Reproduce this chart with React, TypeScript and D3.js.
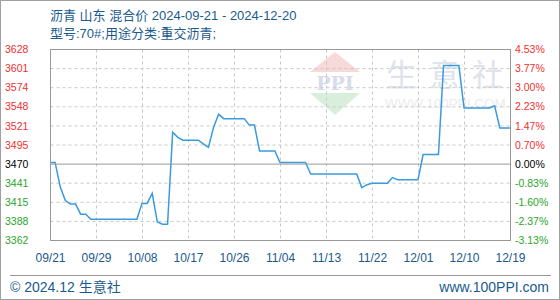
import React from "react";
import * as d3 from "d3";

const titleLine1 = "沥青 山东 混合价 2024-09-21 - 2024-12-20";
const titleLine2 = "型号:70#;用途分类:重交沥青;";
const startDate = "2024-09-21";
const baseValue = 3470;

const prices = [
  3470, 3470, 3436, 3417, 3412, 3412, 3398, 3398,
  3391, 3391, 3391, 3391, 3391, 3391, 3391, 3391, 3391, 3391,
  3413, 3413, 3427, 3387, 3384, 3384,
  3512, 3505,
  3501, 3501, 3501, 3501,
  3496, 3491, 3519, 3537,
  3531, 3531, 3531, 3531, 3531,
  3522, 3522,
  3486, 3486, 3486, 3486,
  3470, 3470, 3470, 3470, 3470, 3470,
  3454, 3454, 3454, 3454, 3454, 3454, 3454, 3454, 3454, 3454,
  3435, 3439,
  3441, 3441, 3441, 3441,
  3449,
  3446, 3446, 3446, 3446, 3446,
  3481, 3481, 3481, 3481,
  3605, 3605, 3605, 3605,
  3546, 3546, 3546, 3546, 3546, 3546,
  3549,
  3518, 3518, 3518,
];

const leftLabels = ["3628", "3601", "3574", "3548", "3521", "3495", "3470", "3441", "3415", "3388", "3362"];
const rightLabels = ["4.53%", "3.77%", "3.00%", "2.23%", "1.47%", "0.70%", "0.00%", "-0.83%", "-1.60%", "-2.37%", "-3.13%"];
const xLabels = ["09/21", "09/29", "10/08", "10/17", "10/26", "11/04", "11/13", "11/22", "12/01", "12/10", "12/19"];

const W = 560;
const H = 300;
const L = 50.5;
const R = 510.5;
const T = 49.5;
const B = 240.5;

const BLUE_TEXT = "#1a5a8c";
const LINE = "#3a9ade";
const RED = "#f03030";
const GREEN = "#2aa52a";
const FONT = "'Liberation Sans', Arial, 'Noto Sans CJK SC', sans-serif";
const CJK = "'Liberation Sans', 'Noto Sans CJK SC', sans-serif";

export default function App() {
  const parse = d3.timeParse("%Y-%m-%d");
  const d0 = parse(startDate) as Date;
  const data = prices.map((v, i) => ({ date: d3.timeDay.offset(d0, i), value: v }));
  const x = d3
    .scaleTime()
    .domain([data[0].date, data[data.length - 1].date])
    .range([L - 0.5, R - 0.5]);
  const y = d3.scaleLinear().domain([3362, 3628]).range([B - 0.5, T - 0.5]);
  const gy = d3.scalePoint<string>().domain(leftLabels).range([T, B]);
  const gx = d3.scalePoint<string>().domain(xLabels).range([L, R]);

  const line = d3
    .line<{ date: Date; value: number }>()
    .x((d) => x(d.date))
    .y((d) => y(d.value));

  const baseIdx = leftLabels.indexOf(String(baseValue));

  return (
    <svg
      width={W}
      height={H}
      style={{ position: "absolute", left: 0, top: 0, background: "#fff" }}
    >
      <rect x={0.5} y={0.5} width={W - 1} height={H - 1} fill="#fff" stroke="#a0a0a0" />

      {/* watermark */}
      <g>
        <path d="M335,52 L360,72 L310,72 Z" fill="#f7d9d9" />
        <path d="M310,93 L360,93 L335,115 Z" fill="#d9eedd" />
        <text x={335} y={90} textAnchor="middle" fontFamily="'DejaVu Serif', serif" fontWeight="bold" fontSize={19} fill="#d6dcea">PPI</text>
        {["生", "意", "社"].map((c, i) => (
          <text key={c} x={386 + i * 43} y={86} fontFamily="'Noto Sans CJK SC', sans-serif" fontSize={31} fill="#dfe3ec">{c}</text>
        ))}
        <text x={385} y={108} fontFamily={FONT} fontSize={13.5} fill="#ececec">WWW.100PPI.COM</text>
      </g>

      {/* grid */}
      {leftLabels.map((lab, i) =>
        i === 0 || i === leftLabels.length - 1 || i === baseIdx ? null : (
          <line key={"h" + lab} x1={L} x2={R} y1={gy(lab)} y2={gy(lab)} stroke="#c8c8c8" strokeDasharray="3,3" />
        )
      )}
      {xLabels.map((lab, i) =>
        i === 0 || i === xLabels.length - 1 ? null : (
          <line key={"v" + lab} x1={gx(lab)} x2={gx(lab)} y1={T} y2={B} stroke="#c8c8c8" strokeDasharray="3,3" />
        )
      )}

      <path d={line(data) || ""} fill="none" stroke={LINE} strokeWidth={1.5} />

      <line x1={L} x2={R} y1={gy(String(baseValue))} y2={gy(String(baseValue))} stroke="#999" />
      <rect x={L} y={T} width={R - L} height={B - T} fill="none" stroke="#999" />

      {/* left axis */}
      {leftLabels.map((lab, i) => (
        <text
          key={"l" + lab}
          x={5}
          y={gy(lab)}
          dy="0.35em"
          fontFamily={FONT}
          fontSize={10.5}
          fill={i < baseIdx ? RED : i === baseIdx ? "#000" : GREEN}
        >
          {lab}
        </text>
      ))}
      {/* right axis */}
      {rightLabels.map((lab, i) => (
        <text
          key={"r" + lab}
          x={515}
          y={gy(leftLabels[i])}
          dy="0.35em"
          fontFamily={FONT}
          fontSize={10.5}
          fill={i < baseIdx ? RED : i === baseIdx ? "#000" : GREEN}
        >
          {lab}
        </text>
      ))}
      {/* x axis */}
      {xLabels.map((lab) => (
        <text key={"x" + lab} x={gx(lab)} y={262} textAnchor="middle" fontFamily={FONT} fontSize={12} fill={BLUE_TEXT}>
          {lab}
        </text>
      ))}

      {/* title */}
      <text x={50} y={20} fontFamily={CJK} fontSize={13} fill={BLUE_TEXT}>{titleLine1}</text>
      <text x={50} y={38} fontFamily={CJK} fontSize={13} fill={BLUE_TEXT}>{titleLine2}</text>

      {/* footer */}
      <line x1={10} x2={551} y1={275.5} y2={275.5} stroke="#999" />
      <text x={10} y={292} fontFamily={CJK} fontSize={14} fill={BLUE_TEXT}>© 2024.12 生意社</text>
      <text x={549} y={292} textAnchor="end" fontFamily={FONT} fontSize={14} fill={BLUE_TEXT}>www.100PPI.com</text>
    </svg>
  );
}
